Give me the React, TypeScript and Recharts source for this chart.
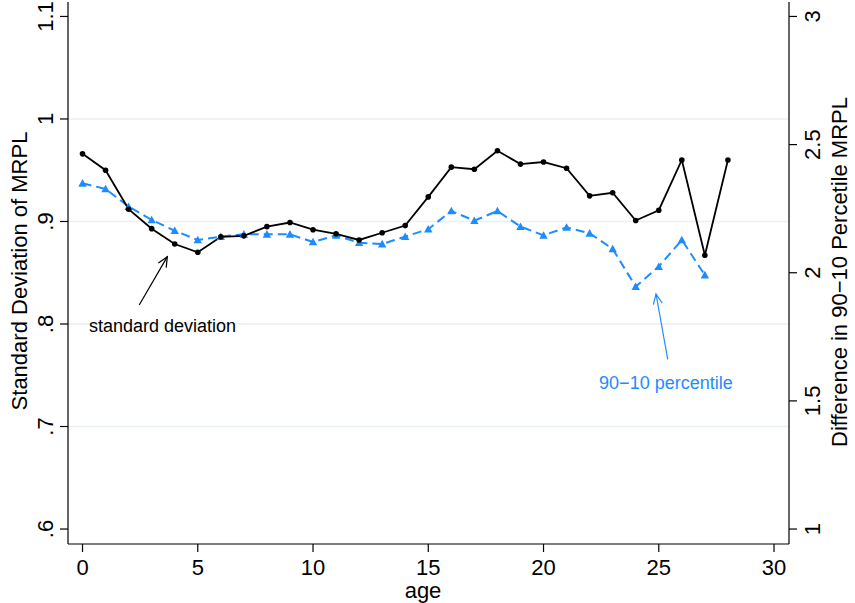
import React from 'react';
import { ComposedChart, Line, XAxis, YAxis, ReferenceLine, ReferenceDot } from 'recharts';

const ages = [0, 1, 2, 3, 4, 5, 6, 7, 8, 9, 10, 11, 12, 13, 14, 15, 16, 17, 18, 19, 20, 21, 22, 23, 24, 25, 26, 27, 28];
const sdValues = [0.966, 0.95, 0.912, 0.893, 0.878, 0.87, 0.885, 0.886, 0.895, 0.899, 0.892, 0.888, 0.882, 0.889, 0.896, 0.924, 0.953, 0.951, 0.969, 0.956, 0.958, 0.952, 0.925, 0.928, 0.901, 0.911, 0.96, 0.867, 0.96];
const pctValues: (number | null)[] = [2.349, 2.327, 2.258, 2.206, 2.164, 2.128, 2.141, 2.15, 2.15, 2.15, 2.12, 2.146, 2.117, 2.112, 2.141, 2.17, 2.241, 2.203, 2.241, 2.18, 2.146, 2.177, 2.154, 2.093, 1.946, 2.024, 2.128, 1.991, null];

const xTicks = [0, 5, 10, 15, 20, 25, 30];
const leftTicks = [0.6, 0.7, 0.8, 0.9, 1, 1.1];
const leftTickLabels = ['.6', '.7', '.8', '.9', '1', '1.1'];
const rightTicks = [1, 1.5, 2, 2.5, 3];
const rightTickLabels = ['1', '1.5', '2', '2.5', '3'];
const gridValues = [0.7, 0.8, 0.9, 1];

const sdArrow = { from: { x: 2.46, y: 0.8185 }, to: { x: 3.68, y: 0.8657 } };
const sdNote = { x: 3.47, y: 0.798, text: 'standard deviation' };
const pctArrow = { from: { x: 25.39, y: 1.662 }, to: { x: 24.88, y: 1.917 } };
const pctNote = { x: 25.31, y: 1.57, text: '90\u221210 percentile' };

const data = ages.map((a, i) => ({ age: a, sd: sdValues[i], pct: pctValues[i] }));

const BLUE = '#1E8CFF';
const FONT = '"Liberation Sans", Arial, Helvetica, sans-serif';

const LeftTick = (p: any) => {
  const i = leftTicks.indexOf(p.payload.value);
  const x = p.x - 5;
  return (
    <text x={x} y={p.y} transform={`rotate(-90, ${x}, ${p.y})`} textAnchor="middle" fontSize={22} fill="#000" fontFamily={FONT}>
      {leftTickLabels[i] ?? String(p.payload.value)}
    </text>
  );
};

const RightTick = (p: any) => {
  const i = rightTicks.indexOf(p.payload.value);
  const x = p.x + 21;
  return (
    <text x={x} y={p.y} transform={`rotate(-90, ${x}, ${p.y})`} textAnchor="middle" fontSize={22} fill="#000" fontFamily={FONT}>
      {rightTickLabels[i] ?? String(p.payload.value)}
    </text>
  );
};

const makeArrow = (color: string) => (p: any) => {
  const { x1, y1, x2, y2 } = p;
  if ([x1, y1, x2, y2].some((v) => v == null || isNaN(v))) return <g />;
  const ang = Math.atan2(y2 - y1, x2 - x1);
  const L = 11;
  const sp = 0.42;
  const ax = x2 - L * Math.cos(ang - sp);
  const ay = y2 - L * Math.sin(ang - sp);
  const bx = x2 - L * Math.cos(ang + sp);
  const by = y2 - L * Math.sin(ang + sp);
  return (
    <g>
      <line x1={x1} y1={y1} x2={x2} y2={y2} stroke={color} strokeWidth={1.2} />
      <polyline points={`${ax},${ay} ${x2},${y2} ${bx},${by}`} fill="none" stroke={color} strokeWidth={1.2} />
    </g>
  );
};

const Triangle = (p: any) => {
  if (p.cx == null || p.cy == null || p.value == null || isNaN(p.cy)) return <g key={p.key} />;
  const s = 4.2;
  return (
    <polygon
      key={p.key}
      points={`${p.cx},${p.cy - s} ${p.cx - s},${p.cy + s * 0.8} ${p.cx + s},${p.cy + s * 0.8}`}
      fill={BLUE}
    />
  );
};

export default function App() {
  return (
    <div style={{ position: 'absolute', left: 0, top: 0, width: 855, height: 603, background: '#fff', fontFamily: FONT }}>
      <ComposedChart width={855} height={603} data={data} margin={{ top: 2, right: 0, bottom: 0, left: 0 }}>
        <XAxis
          dataKey="age"
          type="number"
          domain={[-0.63, 30.65]}
          ticks={xTicks}
          allowDataOverflow
          height={59}
          tickSize={8}
          tickMargin={7}
          tick={{ fontSize: 22, fill: '#000', fontFamily: FONT }}
          axisLine={{ stroke: '#000', strokeWidth: 1.2 }}
          tickLine={{ stroke: '#000', strokeWidth: 1.2 }}
          label={() => (
            <text x={423} y={598} textAnchor="middle" fontSize={22} fill="#000" fontFamily={FONT}>
              age
            </text>
          )}
        />
        <YAxis
          yAxisId="left"
          orientation="left"
          type="number"
          domain={[0.5854, 1.1141]}
          ticks={leftTicks}
          allowDataOverflow
          width={68}
          tickSize={8}
          tickMargin={2}
          tick={<LeftTick />}
          axisLine={{ stroke: '#000', strokeWidth: 1.2 }}
          tickLine={{ stroke: '#000', strokeWidth: 1.2 }}
          label={() => (
            <text x={27} y={271} transform="rotate(-90, 27, 271)" textAnchor="middle" fontSize={22} fill="#000" fontFamily={FONT}>
              Standard Deviation of MRPL
            </text>
          )}
        />
        <YAxis
          yAxisId="right"
          orientation="right"
          type="number"
          domain={[0.9416, 3.0564]}
          ticks={rightTicks}
          allowDataOverflow
          width={66}
          tickSize={8}
          tickMargin={2}
          tick={<RightTick />}
          axisLine={{ stroke: '#000', strokeWidth: 1.2 }}
          tickLine={{ stroke: '#000', strokeWidth: 1.2 }}
          label={() => (
            <text x={847} y={272} transform="rotate(-90, 847, 272)" textAnchor="middle" fontSize={22} fill="#000" fontFamily={FONT}>
              Difference in 90{'\u2212'}10 Percetile MRPL
            </text>
          )}
        />
        {gridValues.map((v) => (
          <ReferenceLine key={v} yAxisId="left" y={v} stroke="#E8F0F2" strokeWidth={1.6} />
        ))}
        <Line
          yAxisId="right"
          dataKey="pct"
          stroke={BLUE}
          strokeWidth={2}
          strokeDasharray="9 5"
          dot={Triangle}
          activeDot={false}
          isAnimationActive={false}
        />
        <Line
          yAxisId="left"
          dataKey="sd"
          stroke="#000"
          strokeWidth={1.8}
          dot={{ r: 2.8, fill: '#000', stroke: '#000', strokeWidth: 0 }}
          activeDot={false}
          isAnimationActive={false}
        />
        <ReferenceLine
          yAxisId="left"
          segment={[sdArrow.from, sdArrow.to]}
          shape={makeArrow('#000')}
        />
        <ReferenceLine
          yAxisId="right"
          segment={[pctArrow.from, pctArrow.to]}
          shape={makeArrow(BLUE)}
        />
        <ReferenceDot
          yAxisId="left"
          x={sdNote.x}
          y={sdNote.y}
          r={0}
          stroke="none"
          fill="none"
          label={{ value: sdNote.text, position: 'center', fontSize: 18, fill: '#000', fontFamily: FONT }}
        />
        <ReferenceDot
          yAxisId="right"
          x={pctNote.x}
          y={pctNote.y}
          r={0}
          stroke="none"
          fill="none"
          label={{ value: pctNote.text, position: 'center', fontSize: 18, fill: BLUE, fontFamily: FONT }}
        />
      </ComposedChart>
    </div>
  );
}
